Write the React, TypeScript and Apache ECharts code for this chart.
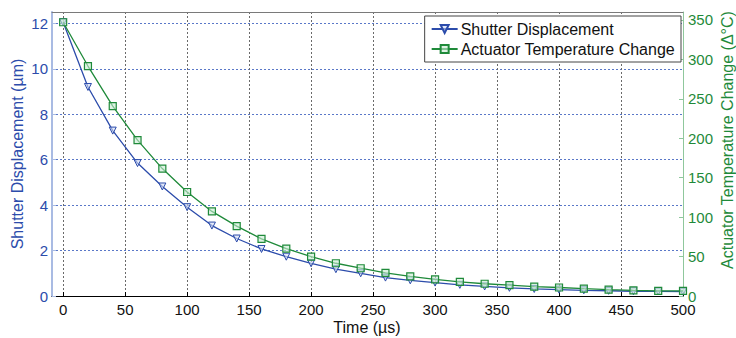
import React, { useEffect, useRef } from "react";
import * as echarts from "echarts";

const timeUs = [0, 20, 40, 60, 80, 100, 120, 140, 160, 180, 200, 220, 240, 260, 280, 300, 320, 340, 360, 380, 400, 420, 440, 460, 480, 500];
const shutterDisp = [12.05, 9.2, 7.28, 5.85, 4.82, 3.91, 3.1, 2.53, 2.07, 1.73, 1.44, 1.18, 1.0, 0.81, 0.69, 0.59, 0.49, 0.42, 0.36, 0.31, 0.28, 0.25, 0.23, 0.21, 0.2, 0.19];
const tempChange = [347, 291.5, 240.7, 197.5, 161.5, 131.8, 107.2, 88.6, 72.5, 60, 50, 41.5, 35.2, 29.2, 25, 21.2, 17.8, 15.5, 13.8, 11.8, 10.8, 9.3, 8, 7.2, 6.6, 6.4];
const xTicks = [0, 50, 100, 150, 200, 250, 300, 350, 400, 450, 500];

const FONT = "'Liberation Sans', Arial, sans-serif";
const BLUE = "#2c4cab";
const GREEN = "#1f8a3a";

export default function App() {
  const ref = useRef<HTMLDivElement>(null);
  useEffect(() => {
    if (!ref.current) return;
    const chart = echarts.init(ref.current, null, { renderer: "svg" });
    chart.setOption({
      animation: false,
      backgroundColor: "#ffffff",
      textStyle: { fontFamily: FONT },
      grid: { left: 52, right: 53, top: 12, bottom: 42, containLabel: false },
      legend: {
        orient: "vertical",
        right: 55,
        top: 16,
        backgroundColor: "#ffffff",
        borderColor: "#444444",
        borderWidth: 1,
        borderRadius: 0,
        padding: [5, 6, 5, 6],
        itemGap: 4,
        itemWidth: 26,
        itemHeight: 10,
        textStyle: { fontSize: 16, color: "#111111", fontFamily: FONT, padding: [0, 0, 0, -2] },
        data: ["Shutter Displacement", "Actuator Temperature Change"],
      },
      xAxis: [
        {
          type: "value",
          min: -9,
          max: 500,
          axisLine: { show: true, onZero: false, lineStyle: { color: "#000000", width: 1 } },
          axisTick: { show: true, inside: true, length: 4, customValues: xTicks, lineStyle: { color: "#000000" } },
          axisLabel: { customValues: xTicks, color: "#111111", fontSize: 15, fontFamily: FONT, margin: 6 },
          splitLine: { show: true, lineStyle: { color: "#6a6a6a", type: [2, 2], width: 1 } },
        },
        {
          type: "value",
          position: "top",
          min: -9,
          max: 500,
          axisLine: { show: true, onZero: false, lineStyle: { color: "#7a7a7a", width: 1 } },
          axisTick: { show: false },
          axisLabel: { show: false },
          splitLine: { show: false },
        },
      ],
      yAxis: [
        {
          type: "value",
          min: 0,
          max: 12.5,
          interval: 2,
          position: "left",
          axisLine: { show: true, onZero: false, lineStyle: { color: "#a9bbe3", width: 2 } },
          axisTick: { show: true, inside: true, length: 4, lineStyle: { color: "#a9bbe3" } },
          axisLabel: { color: BLUE, fontSize: 15, fontFamily: FONT, margin: 4 },
          splitLine: { show: true, lineStyle: { color: "#5a78c8", type: [2, 2], width: 1 } },
        },
        {
          type: "value",
          min: 0,
          max: 360,
          interval: 50,
          position: "right",
          axisLine: { show: true, onZero: false, lineStyle: { color: "#8fc79c", width: 1 } },
          axisTick: { show: true, inside: true, length: 4, lineStyle: { color: "#8fc79c" } },
          axisLabel: { color: GREEN, fontSize: 15, fontFamily: FONT, margin: 5 },
          splitLine: { show: false },
        },
      ],
      graphic: [
        {
          type: "text",
          x: 17,
          y: 154,
          rotation: Math.PI / 2,
          style: { text: "Shutter Displacement (\u00b5m)", fill: BLUE, font: `16px ${FONT}`, textAlign: "center", textVerticalAlign: "middle" },
        },
        {
          type: "text",
          x: 727,
          y: 140,
          rotation: Math.PI / 2,
          style: { text: "Actuator Temperature Change (\u0394\u00b0C)", fill: GREEN, font: `16px ${FONT}`, textAlign: "center", textVerticalAlign: "middle" },
        },
        {
          type: "text",
          x: 367,
          y: 327,
          style: { text: "Time (\u00b5s)", fill: "#111111", font: `16px ${FONT}`, textAlign: "center", textVerticalAlign: "middle" },
        },
      ],
      series: [
        {
          name: "Shutter Displacement",
          type: "line",
          xAxisIndex: 0,
          yAxisIndex: 0,
          data: timeUs.map((t, i) => [t, shutterDisp[i]]),
          symbol: "triangle",
          symbolRotate: 180,
          symbolSize: 7,
          showAllSymbol: true,
          lineStyle: { color: BLUE, width: 1.3 },
          itemStyle: { color: "rgba(210,220,245,0.6)", borderColor: BLUE, borderWidth: 1 },
          z: 3,
        },
        {
          name: "Actuator Temperature Change",
          type: "line",
          xAxisIndex: 0,
          yAxisIndex: 1,
          data: timeUs.map((t, i) => [t, tempChange[i]]),
          symbol: "rect",
          symbolSize: 7,
          showAllSymbol: true,
          lineStyle: { color: GREEN, width: 1.3 },
          itemStyle: { color: "rgba(200,235,210,0.6)", borderColor: GREEN, borderWidth: 1.2 },
          z: 4,
        },
      ],
    });
    return () => chart.dispose();
  }, []);
  return <div ref={ref} style={{ width: 736, height: 338, position: "absolute", left: 0, top: 0 }} />;
}
